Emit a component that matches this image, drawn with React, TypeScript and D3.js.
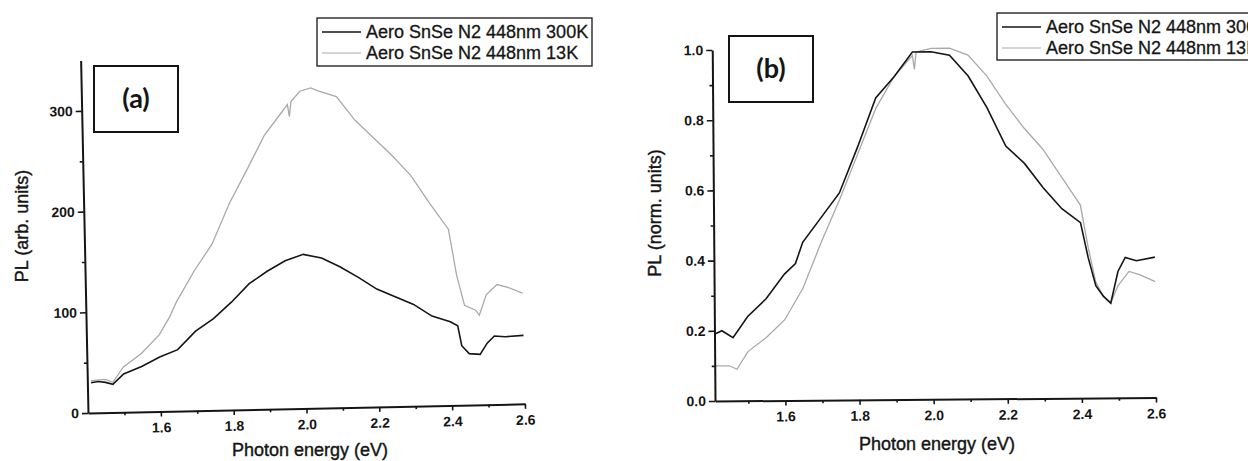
import React, { useEffect, useRef } from "react";
import * as d3 from "d3";

// legend text + axis ticks
const seriesNames = ["Aero SnSe N2 448nm 300K", "Aero SnSe N2 448nm 13K"];
const energyTicks = [1.6, 1.8, 2.0, 2.2, 2.4, 2.6];
const energyMinorTicks = [1.5, 1.7, 1.9, 2.1, 2.3, 2.5];
const arbTicks = [0, 100, 200, 300];
const arbMinorTicks = [50, 150, 250];
const normTicks = [0, 0.2, 0.4, 0.6, 0.8, 1.0];
const normMinorTicks = [0.1, 0.3, 0.5, 0.7, 0.9];

// panel (a) - PL in arb. units, [photon energy eV, PL]
const arb300K: [number, number][] = [
  [1.41, 30], [1.43, 31], [1.45, 30], [1.47, 28], [1.5, 38], [1.55, 45], [1.6, 54],
  [1.65, 61], [1.7, 79], [1.75, 91], [1.8, 107], [1.85, 125], [1.9, 137], [1.95, 147],
  [2.0, 153], [2.05, 149], [2.1, 140], [2.15, 129], [2.2, 117], [2.25, 109], [2.3, 101],
  [2.35, 89], [2.4, 83], [2.42, 79], [2.43, 59], [2.45, 51], [2.48, 50], [2.5, 61],
  [2.52, 68], [2.55, 67], [2.6, 68],
];
const arb13K: [number, number][] = [
  [1.41, 32], [1.45, 33], [1.47, 30], [1.5, 45], [1.55, 58], [1.6, 76], [1.63, 94],
  [1.65, 109], [1.7, 139], [1.75, 165], [1.8, 205], [1.85, 238], [1.9, 272], [1.95, 295],
  [1.965, 302], [1.97, 290], [1.975, 305], [2.0, 315], [2.03, 318], [2.05, 315],
  [2.1, 309], [2.15, 285], [2.2, 267], [2.25, 249], [2.3, 229], [2.35, 201], [2.4, 175],
  [2.42, 129], [2.44, 99], [2.47, 94], [2.48, 89], [2.5, 109], [2.53, 119], [2.56, 116],
  [2.6, 110],
];

// panel (b) - normalised PL
const norm300K: [number, number][] = [
  [1.41, 0.19], [1.43, 0.2], [1.46, 0.18], [1.5, 0.24], [1.55, 0.29], [1.6, 0.36],
  [1.63, 0.39], [1.65, 0.45], [1.7, 0.52], [1.75, 0.59], [1.8, 0.72], [1.85, 0.86],
  [1.9, 0.92], [1.95, 0.99], [2.0, 0.99], [2.05, 0.98], [2.1, 0.92], [2.15, 0.83],
  [2.2, 0.72], [2.25, 0.67], [2.3, 0.6], [2.35, 0.54], [2.4, 0.5], [2.42, 0.4],
  [2.44, 0.32], [2.46, 0.29], [2.48, 0.27], [2.5, 0.36], [2.52, 0.4], [2.55, 0.39],
  [2.6, 0.4],
];
const norm13K: [number, number][] = [
  [1.41, 0.1], [1.45, 0.1], [1.47, 0.09], [1.5, 0.14], [1.55, 0.18], [1.6, 0.23],
  [1.65, 0.32], [1.7, 0.45], [1.75, 0.57], [1.8, 0.7], [1.85, 0.83], [1.9, 0.92],
  [1.95, 0.98], [1.955, 0.94], [1.96, 0.99], [2.0, 1.0], [2.05, 1.0], [2.1, 0.98],
  [2.15, 0.92], [2.2, 0.84], [2.25, 0.77], [2.3, 0.71], [2.35, 0.63], [2.4, 0.55],
  [2.42, 0.43], [2.44, 0.33], [2.46, 0.29], [2.48, 0.27], [2.5, 0.32], [2.53, 0.36],
  [2.56, 0.35], [2.6, 0.33],
];

const FONT = "'Liberation Sans', Arial, sans-serif";
const INK = "#151515";
const GREY = "#a9a9a9";

function drawPanel(svg: any, p: any) {
  const root = svg.append("g");
  //the scan is a little tilted, so the plot body is rotated round its origin
  const plot = root.append("g").attr("transform", `rotate(${p.tilt},${p.x0},${p.y0})`);

  const x = d3.scaleLinear().domain(p.xDomain).range([p.x0, p.x1]);
  const y = d3.scaleLinear().domain(p.yDomain).range([p.y0, p.yTop]);

  const line = d3
    .line<[number, number]>()
    .x((d) => x(d[0]))
    .y((d) => y(d[1]));

  //curves - grey (13K) under black (300K)
  plot.append("path").datum(p.cold).attr("fill", "none").attr("stroke", GREY)
    .attr("stroke-width", 1.3).attr("d", line);
  plot.append("path").datum(p.warm).attr("fill", "none").attr("stroke", INK)
    .attr("stroke-width", 1.6).attr("d", line);

  //x axis
  const xa = plot.append("g").attr("transform", `translate(0,${p.y0})`)
    .call(d3.axisBottom(x).tickValues(energyTicks).tickSize(5).tickSizeOuter(0)
      .tickPadding(6).tickFormat(d3.format(".1f")));
  plot.append("g").attr("transform", `translate(0,${p.y0})`)
    .call(d3.axisBottom(x).tickValues(energyMinorTicks).tickSize(3).tickFormat(() => ""))
    .select(".domain").remove();

  //y axis
  const ya = plot.append("g").attr("transform", `translate(${p.x0},0)`)
    .call(d3.axisLeft(y).tickValues(p.yTicks).tickSize(6).tickSizeOuter(0)
      .tickPadding(3).tickFormat(d3.format(p.yFormat)));
  plot.append("g").attr("transform", `translate(${p.x0},0)`)
    .call(d3.axisLeft(y).tickValues(p.yMinor).tickSize(3).tickFormat(() => ""))
    .select(".domain").remove();

  [xa, ya].forEach((a) => {
    a.select(".domain").attr("stroke", INK).attr("stroke-width", 2);
    a.selectAll("text").attr("fill", INK).style("font-family", FONT)
      .style("font-size", "14px").style("font-weight", "bold");
  });
  plot.selectAll(".tick line").attr("stroke", INK).attr("stroke-width", 1.6);

  //axis titles (thin stroke gives the heavy printed look)
  root.append("text").attr("x", p.xTitle[0]).attr("y", p.xTitle[1])
    .attr("text-anchor", "middle").attr("fill", INK)
    .attr("stroke", INK).attr("stroke-width", 0.4)
    .style("font-family", FONT).style("font-size", "18px")
    .text("Photon energy (eV)");
  root.append("text")
    .attr("transform", `translate(${p.yTitle[0]},${p.yTitle[1]}) rotate(-90)`)
    .attr("text-anchor", "middle").attr("dy", "0.35em").attr("fill", INK)
    .attr("stroke", INK).attr("stroke-width", 0.4)
    .style("font-family", FONT).style("font-size", "18px")
    .text(p.yLabel);

  //panel tag box
  const [bx, by, bw, bh] = p.tagBox;
  root.append("rect").attr("x", bx).attr("y", by).attr("width", bw).attr("height", bh)
    .attr("fill", "white").attr("stroke", INK).attr("stroke-width", 2);
  root.append("text").attr("x", bx + bw / 2).attr("y", by + bh / 2).attr("dy", "0.35em")
    .attr("text-anchor", "middle").attr("fill", INK)
    .style("font-family", "Lato, 'Open Sans', sans-serif").style("font-weight", "bold")
    .style("font-size", "27px").text(p.tag);

  //legend - in (b) it runs off the right edge, same as the scan
  const [lx, ly, lw, lh] = p.legend;
  const lg = root.append("g");
  lg.append("rect").attr("x", lx).attr("y", ly).attr("width", lw).attr("height", lh)
    .attr("fill", "white").attr("stroke", INK).attr("stroke-width", 1.3);
  seriesNames.forEach((name, i) => {
    const cy = ly + 14 + i * 21;
    lg.append("line").attr("x1", lx + 5).attr("x2", lx + 44).attr("y1", cy).attr("y2", cy)
      .attr("stroke", i === 0 ? INK : GREY).attr("stroke-width", i === 0 ? 1.4 : 1.2);
    lg.append("text").attr("x", lx + 49).attr("y", cy).attr("dy", "0.36em")
      .attr("fill", INK).attr("stroke", INK).attr("stroke-width", 0.3)
      .style("font-family", FONT).style("font-size", "18px")
      .text(name);
  });
}

export default function App() {
  const svgRef = useRef<SVGSVGElement>(null);

  useEffect(() => {
    const svg = d3.select(svgRef.current);
    svg.selectAll("*").remove();

    drawPanel(svg, {
      x0: 88, x1: 525, y0: 413, yTop: 60.5, tilt: -1.2,
      xDomain: [1.4, 2.6], yDomain: [0, 350],
      yTicks: arbTicks, yMinor: arbMinorTicks, yFormat: "d",
      warm: arb300K, cold: arb13K,
      xTitle: [310, 456], yTitle: [22, 226], yLabel: "PL (arb. units)",
      tagBox: [94, 66, 84, 66], tag: "(a)",
      legend: [317, 18, 275, 48],
    });

    drawPanel(svg, {
      x0: 715, x1: 1156, y0: 401, yTop: 50, tilt: -0.45,
      xDomain: [1.41, 2.6], yDomain: [0, 1],
      yTicks: normTicks, yMinor: normMinorTicks, yFormat: ".1f",
      warm: norm300K, cold: norm13K,
      xTitle: [937, 450], yTitle: [655, 213], yLabel: "PL (norm. units)",
      tagBox: [729, 36, 84, 66], tag: "(b)",
      legend: [997, 13, 290, 47],
    });
  }, []);

  return (
    <div style={{ position: "absolute", left: 0, top: 0 }}>
      <svg ref={svgRef} width={1248} height={461} style={{ display: "block", background: "white" }} />
    </div>
  );
}
